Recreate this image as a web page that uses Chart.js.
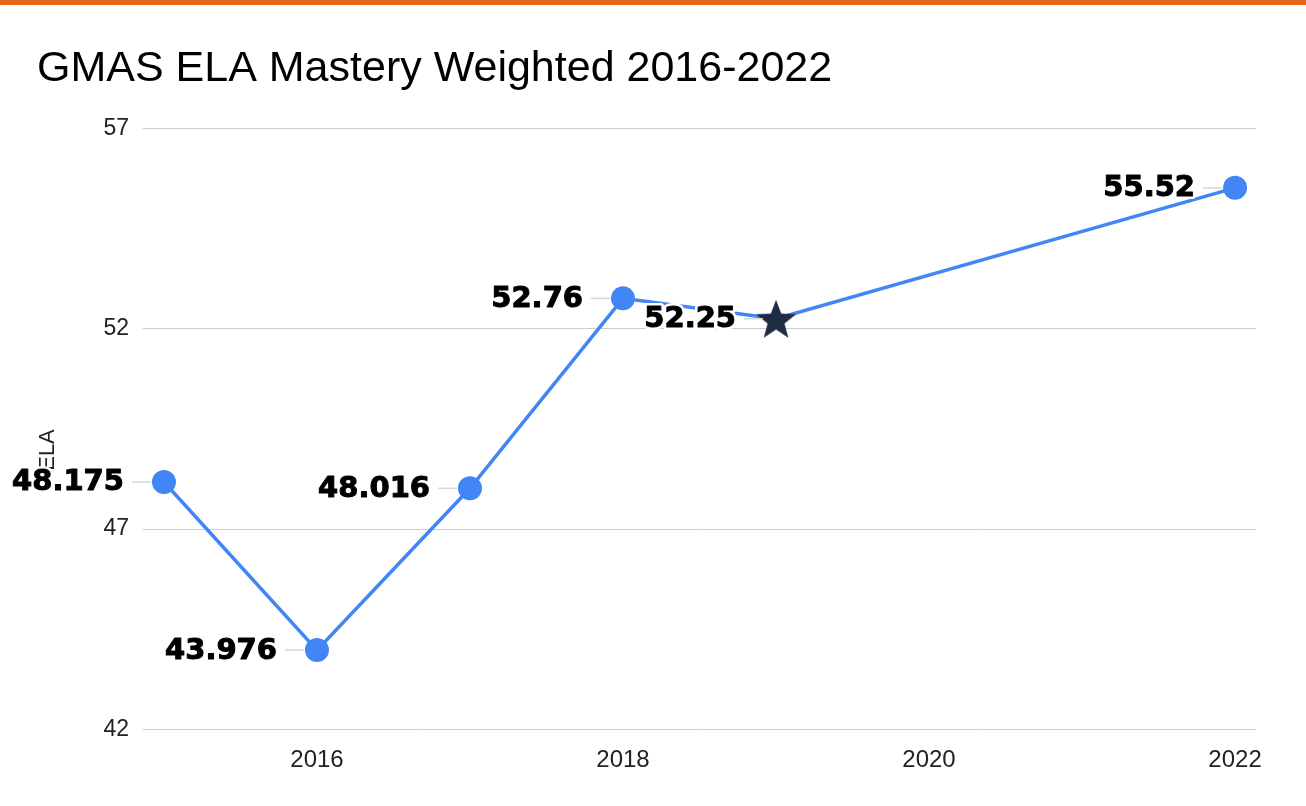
<!DOCTYPE html>
<html>
<head>
<meta charset="utf-8">
<script src="https://cdn.jsdelivr.net/npm/chart.js@4.4.1/dist/chart.umd.min.js"></script>
<style>
  html, body { margin: 0; padding: 0; background: #fff; }
  #barra { height: 5px; background: #e8641b; }
  #caja { position: relative; width: 1306px; height: 801px; }
</style>
</head>
<body>
<div id="barra"></div>
<div id="caja"><canvas id="grafico"></canvas></div>
<script>
/* Datos GMAS ELA */
const ANIOS = [2015, 2016, 2017, 2018, 2019, 2022];
const VALORES_ELA = [48.175, 43.976, 48.016, 52.76, 52.25, 55.52];
const ETIQUETAS = ["48.175", "43.976", "48.016", "52.76", "52.25", "55.52"];
const TICKS_X = [2016, 2018, 2020, 2022];
const TICKS_Y = [42, 47, 52, 57];
const INDICE_ESTRELLA = 4;

const AZUL = "#4285f4";
const FUENTE = "'Liberation Sans', Arial, sans-serif";

/* Estrella rellena para el punto destacado */
function crearEstrella(r, color) {
    const c = document.createElement("canvas");
    c.width = r * 2;
    c.height = r * 2;
    const g = c.getContext("2d");
    g.fillStyle = color;
    g.beginPath();
    for (let i = 0; i < 10; i++) {
        const rad = i % 2 === 0 ? r : r * 0.42;
        const ang = -Math.PI / 2 + i * Math.PI / 5;
        const px = r + rad * Math.cos(ang);
        const py = r + 2 + rad * Math.sin(ang);
        if (i === 0) g.moveTo(px, py); else g.lineTo(px, py);
    }
    g.closePath();
    g.fill();
    return c;
}
const ESTRELLA = crearEstrella(21, "#1e2d43");

/* Titulo del eje Y (posicion como en el original) */
const pluginTituloY = {
    id: "tituloY",
    beforeDatasetsDraw(chart) {
        const ctx = chart.ctx;
        ctx.save();
        ctx.translate(48, 445);
        ctx.rotate(-Math.PI / 2);
        ctx.font = "22px " + FUENTE;
        ctx.fillStyle = "#222";
        ctx.textAlign = "center";
        ctx.textBaseline = "middle";
        ctx.fillText("ELA", 0, 0);
        ctx.restore();
    }
};

/* Etiquetas de valor a la izquierda de cada punto */
const pluginEtiquetas = {
    id: "etiquetasValor",
    afterDatasetsDraw(chart) {
        const ctx = chart.ctx;
        const meta = chart.getDatasetMeta(0);
        ctx.save();
        ctx.font = "bold 29px 'DejaVu Sans', sans-serif";
        ctx.textAlign = "right";
        ctx.textBaseline = "middle";
        meta.data.forEach((p, i) => {
            const derecha = p.x - 40;
            // linea guia
            ctx.strokeStyle = "#d6d6d6";
            ctx.lineWidth = 1.5;
            ctx.beginPath();
            ctx.moveTo(derecha + 8, p.y);
            ctx.lineTo(p.x - 13, p.y);
            ctx.stroke();
            // texto con halo blanco
            ctx.lineJoin = "round";
            ctx.strokeStyle = "#fff";
            ctx.lineWidth = 6;
            ctx.strokeText(ETIQUETAS[i], derecha, p.y + 1);
            ctx.fillStyle = "#000";
            ctx.fillText(ETIQUETAS[i], derecha, p.y + 1);
            ctx.strokeStyle = "#000";
            ctx.lineWidth = 1;
            ctx.strokeText(ETIQUETAS[i], derecha, p.y + 1);
        });
        ctx.restore();
    }
};

const ctx = document.getElementById("grafico");

new Chart(ctx, {
    type: "line",
    data: {
        datasets: [{
            label: "ELA",
            data: ANIOS.map((a, i) => ({ x: a, y: VALORES_ELA[i] })),
            borderColor: AZUL,
            backgroundColor: AZUL,
            borderWidth: 3.5,
            tension: 0,
            pointRadius: 12,
            pointHoverRadius: 12,
            pointBorderWidth: 0,
            pointStyle: ANIOS.map((a, i) => i === INDICE_ESTRELLA ? ESTRELLA : "circle")
        }]
    },
    options: {
        responsive: true,
        maintainAspectRatio: false,
        animation: false,
        layout: { padding: { left: 37, right: 50, top: 0, bottom: 22 } },
        plugins: {
            legend: { display: false },
            tooltip: { enabled: false },
            title: {
                display: true,
                text: "GMAS ELA Mastery Weighted 2016-2022",
                align: "start",
                color: "#000",
                font: { family: FUENTE, size: 43, weight: "normal" },
                padding: { top: 38, bottom: 34 }
            }
        },
        scales: {
            x: {
                type: "linear",
                min: 2014.863,
                max: 2022.137,
                afterBuildTicks: (s) => { s.ticks = TICKS_X.map(v => ({ value: v })); },
                grid: { display: false },
                border: { display: false },
                ticks: {
                    color: "#222",
                    padding: 9,
                    maxRotation: 0,
                    font: { family: FUENTE, size: 24 },
                    callback: (v) => String(v)
                }
            },
            y: {
                min: 42,
                max: 57,
                afterBuildTicks: (s) => { s.ticks = TICKS_Y.map(v => ({ value: v })); },
                afterFit: (s) => { s.width = 106; },
                grid: { color: "#cccccc", lineWidth: 1, drawTicks: false },
                border: { display: false },
                ticks: {
                    color: "#222",
                    padding: 14,
                    font: { family: FUENTE, size: 23 }
                }
            }
        }
    },
    plugins: [pluginTituloY, pluginEtiquetas]
});
</script>
</body>
</html>
